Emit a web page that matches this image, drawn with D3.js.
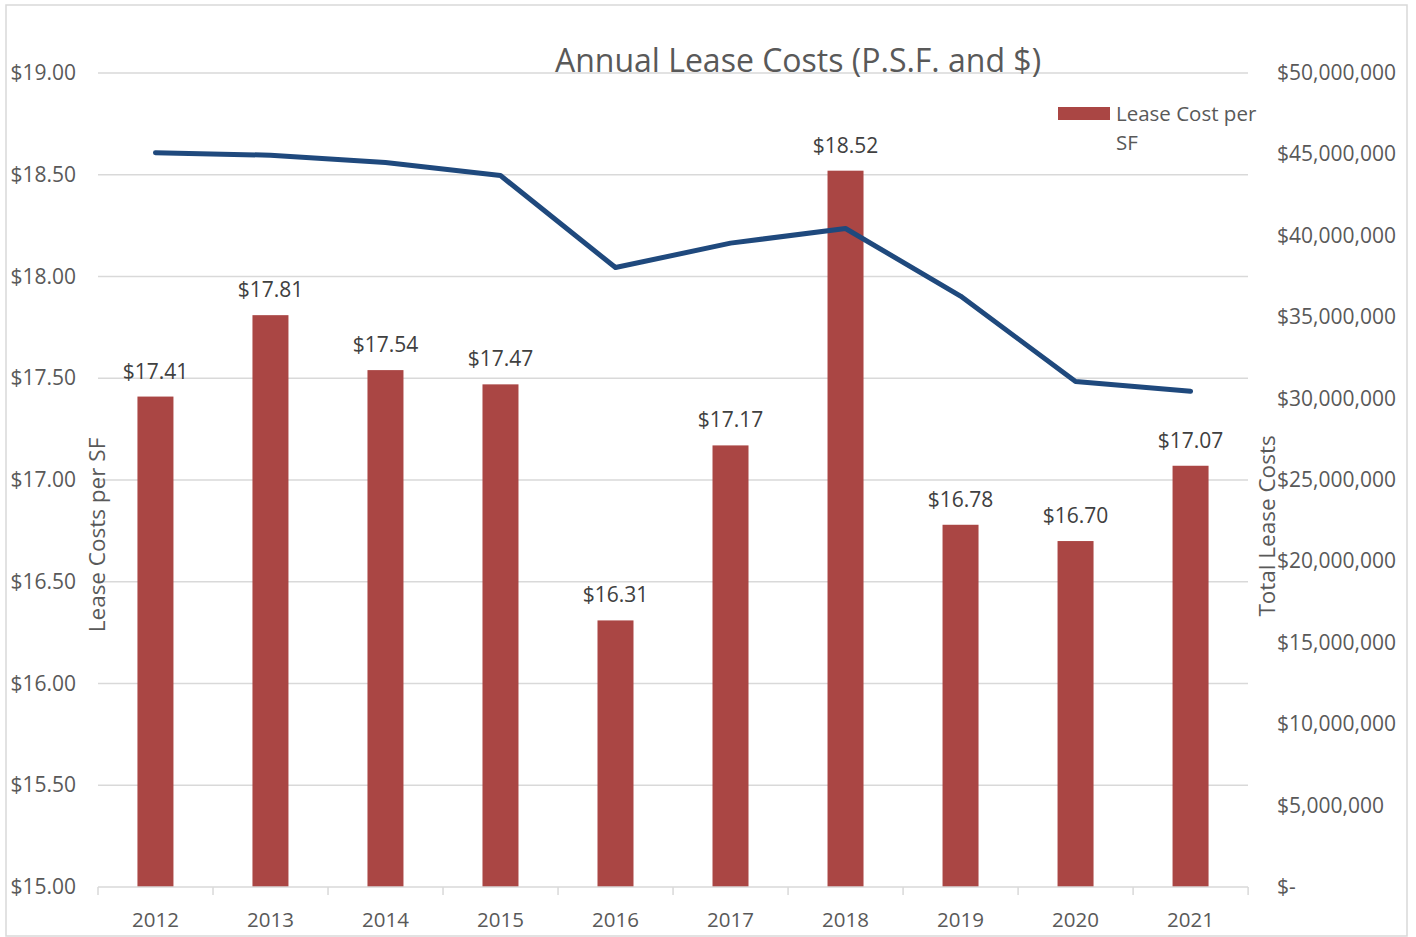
<!DOCTYPE html>
<html>
<head>
<meta charset="utf-8">
<script src="https://cdn.jsdelivr.net/npm/d3@7"></script>
<style>
  body { margin: 0; background: #fff; }
  text { font-family: "Open Sans", sans-serif; fill: #595959; }
</style>
</head>
<body>
<div id="chart"></div>
<script>
var years = ['2012','2013','2014','2015','2016','2017','2018','2019','2020','2021'];
var cost_psf = [17.41, 17.81, 17.54, 17.47, 16.31, 17.17, 18.52, 16.78, 16.70, 17.07];
var total_cost = [45100000, 44950000, 44500000, 43700000, 38050000, 39550000, 40450000, 36300000, 31050000, 30450000];
var left_ticks = [15, 15.5, 16, 16.5, 17, 17.5, 18, 18.5, 19];
var right_ticks = [0, 5e6, 10e6, 15e6, 20e6, 25e6, 30e6, 35e6, 40e6, 45e6, 50e6];

var width = 1416, height = 937;
var plot = {left: 98, right: 1248, top: 73, bottom: 887};

var svg = d3.select('#chart')
  .append('svg')
  .attr('width', width)
  .attr('height', height);

// outer border
svg.append('rect')
  .attr('x', 6).attr('y', 5)
  .attr('width', 1401).attr('height', 931)
  .attr('fill', 'white')
  .attr('stroke', '#d9d9d9')
  .attr('stroke-width', 1.5);

var x = d3.scaleBand()
  .domain(years)
  .range([plot.left, plot.right])
  .paddingInner(0.687)
  .paddingOuter(0.343);

var y_left = d3.scaleLinear()
  .domain([15, 19])
  .range([plot.bottom, plot.top]);

var y_right = d3.scaleLinear()
  .domain([0, 50e6])
  .range([plot.bottom, plot.top]);

// gridlines
svg.append('g')
  .selectAll('line')
  .data(left_ticks.slice(1))
  .join('line')
  .attr('x1', plot.left).attr('x2', plot.right)
  .attr('y1', function(d){ return y_left(d); })
  .attr('y2', function(d){ return y_left(d); })
  .attr('stroke', '#d9d9d9')
  .attr('stroke-width', 1.5);

// title
svg.append('text')
  .attr('x', 798).attr('y', 72)
  .attr('text-anchor', 'middle')
  .style('font-size', '32px')
  .text('Annual Lease Costs (P.S.F. and $)');

// bars
svg.append('g')
  .selectAll('rect')
  .data(years)
  .join('rect')
  .attr('x', function(d){ return x(d); })
  .attr('width', x.bandwidth())
  .attr('y', function(d, i){ return y_left(cost_psf[i]); })
  .attr('height', function(d, i){ return plot.bottom - y_left(cost_psf[i]); })
  .attr('fill', '#aa4644');

// bar labels
svg.append('g')
  .selectAll('text')
  .data(years)
  .join('text')
  .attr('x', function(d){ return x(d) + x.bandwidth() / 2; })
  .attr('y', function(d, i){ return y_left(cost_psf[i]) - 18; })
  .attr('text-anchor', 'middle')
  .style('font-size', '21px')
  .style('fill', '#404040')
  .text(function(d, i){ return '$' + cost_psf[i].toFixed(2); });

// x axis
var x_axis = svg.append('g');
x_axis.append('line')
  .attr('x1', plot.left).attr('x2', plot.right)
  .attr('y1', plot.bottom).attr('y2', plot.bottom)
  .attr('stroke', '#d9d9d9').attr('stroke-width', 1.5);

x_axis.selectAll('line.tick')
  .data(years.concat(['end']))
  .join('line')
  .attr('class', 'tick')
  .attr('x1', function(d, i){ return plot.left + i * x.step(); })
  .attr('x2', function(d, i){ return plot.left + i * x.step(); })
  .attr('y1', plot.bottom).attr('y2', plot.bottom + 8)
  .attr('stroke', '#d9d9d9').attr('stroke-width', 1.5);

x_axis.selectAll('text')
  .data(years)
  .join('text')
  .attr('x', function(d){ return x(d) + x.bandwidth() / 2; })
  .attr('y', 927)
  .attr('text-anchor', 'middle')
  .style('font-size', '20.5px')
  .text(function(d){ return d; });

// left axis labels
svg.append('g')
  .selectAll('text')
  .data(left_ticks)
  .join('text')
  .attr('x', 76)
  .attr('y', function(d){ return y_left(d) + 7; })
  .attr('text-anchor', 'end')
  .style('font-size', '21px')
  .text(function(d){ return '$' + d.toFixed(2); });

// right axis labels
var fmt = d3.format(',');
svg.append('g')
  .selectAll('text')
  .data(right_ticks)
  .join('text')
  .attr('x', 1277)
  .attr('y', function(d){ return y_right(d) + 7; })
  .style('font-size', '21px')
  .text(function(d){ return d === 0 ? '$-' : '$' + fmt(d); });

// axis titles
svg.append('text')
  .attr('transform', 'translate(105,535) rotate(-90)')
  .attr('text-anchor', 'middle')
  .style('font-size', '22.5px')
  .text('Lease Costs per SF');

svg.append('text')
  .attr('transform', 'translate(1275,526) rotate(-90)')
  .attr('text-anchor', 'middle')
  .style('font-size', '22.5px')
  .text('Total Lease Costs');

// total cost line
var line = d3.line()
  .x(function(d, i){ return x(years[i]) + x.bandwidth() / 2; })
  .y(function(d){ return y_right(d); });

svg.append('path')
  .datum(total_cost)
  .attr('d', line)
  .attr('fill', 'none')
  .attr('stroke', '#1f497d')
  .attr('stroke-width', 5)
  .attr('stroke-linecap', 'round')
  .attr('stroke-linejoin', 'round');

// legend
var legend = svg.append('g');
legend.append('rect')
  .attr('x', 1058).attr('y', 107)
  .attr('width', 52).attr('height', 13)
  .attr('fill', '#aa4644');
legend.append('text')
  .attr('x', 1116).attr('y', 121)
  .style('font-size', '20.5px')
  .text('Lease Cost per');
legend.append('text')
  .attr('x', 1116).attr('y', 150)
  .style('font-size', '20.5px')
  .text('SF');
</script>
</body>
</html>
